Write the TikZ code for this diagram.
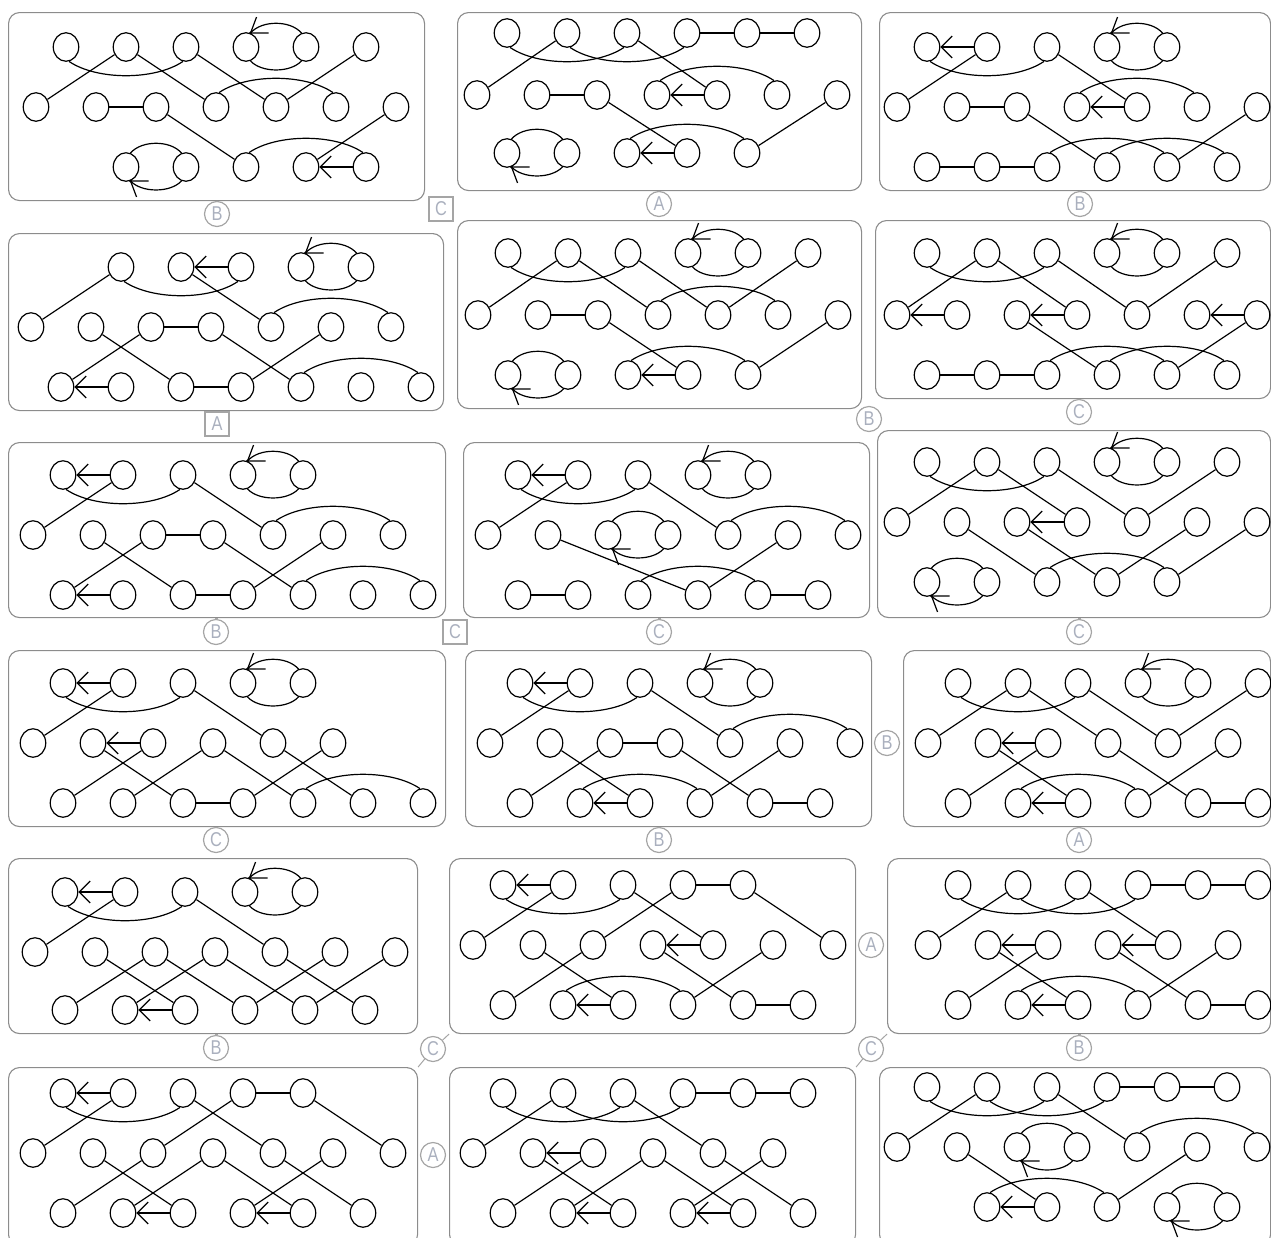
\documentclass[tikz,border=0pt]{standalone}
\usepackage{fontspec}
\newfontfamily\lblfont[FakeStretch=0.82]{Liberation Sans}
\usetikzlibrary{shapes.geometric,arrows.meta,calc}
\definecolor{lblline}{RGB}{165,165,165}
\definecolor{lbltext}{RGB}{170,176,190}
\definecolor{boxline}{RGB}{140,140,140}
\tikzset{
  cir/.style={ellipse,draw=black,line width=1.2pt,minimum width=25.5pt,minimum height=28.5pt,inner sep=0pt},
  edge/.style={draw=black,line width=1.2pt},
  harrow/.style={edge,-{Straight Barb[length=11pt,width=22pt]}},
  panel/.style={rectangle,draw=boxline,line width=1.1pt,rounded corners=11pt,inner sep=0pt},
  lblc/.style={circle,draw=lblline,line width=1.2pt,minimum size=25pt,inner sep=0pt,text=lbltext,font=\lblfont\fontsize{20}{20}\selectfont},
  lblb/.style={rectangle,draw=lblline,line width=1.2pt,minimum size=24pt,inner sep=0pt,text=lbltext,font=\lblfont\fontsize{20}{20}\selectfont},
  stub/.style={draw=lblline,line width=3pt},
  tie/.style={draw=lblline,line width=1pt}
}
\newcommand\SetP[5]{\def\PN{#1}\def\PX{#2}\def\YT{#3}\def\YM{#4}\def\YB{#5}}
\newcommand\PBox[5]{\node[panel,anchor=north west,minimum width={(#4-#2)*1pt},minimum height={(#5-#3)*1pt}] (#1) at (#2,#3) {};}
\newcommand\CT[1]{\foreach \cc in {#1}{\node[cir] (\PN t\cc) at ({\PX+30*\cc},\YT) {};}}
\newcommand\CM[1]{\foreach \cc in {#1}{\node[cir] (\PN m\cc) at ({\PX+30*\cc},\YM) {};}}
\newcommand\CB[1]{\foreach \cc in {#1}{\node[cir] (\PN b\cc) at ({\PX+30*\cc},\YB) {};}}
\newcommand\Ed[2]{\draw[edge] (\PN#1) -- (\PN#2);}
\newcommand\Ar[2]{\draw[harrow] (\PN#2) -- (\PN#1);}
\newcommand\Dn[2]{\draw[edge] (\PN#1.-78) .. controls ($(\PN#1.-78)+(28,19)$) and ($(\PN#2.-102)+(-28,19)$) .. (\PN#2.-102);}
\newcommand\Up[2]{\draw[edge] (\PN#1.78) .. controls ($(\PN#1.78)+(28,-19)$) and ($(\PN#2.102)+(-28,-19)$) .. (\PN#2.102);}
\newcommand\LoopArcs[2]{%
  \draw[edge] (\PN#1.72) .. controls ($(\PN#1.72)+(11,-13)$) and ($(\PN#2.108)+(-11,-13)$) .. (\PN#2.108);
  \draw[edge] (\PN#1.-72) .. controls ($(\PN#1.-72)+(11,12)$) and ($(\PN#2.-108)+(-11,12)$) .. (\PN#2.-108);}
\newcommand\LpT[2]{\LoopArcs{#1}{#2}%
  \draw[edge] (\PN#1.72) -- ++(18,0) (\PN#1.72) -- ++(6,-16);
  \fill (\PN#1.72) circle (1.6pt);}
\newcommand\LpB[2]{\LoopArcs{#1}{#2}%
  \draw[edge] (\PN#1.-72) -- ++(18,0) (\PN#1.-72) -- ++(6,16);
  \fill (\PN#1.-72) circle (1.6pt);}
\newcommand\Lc[4]{\node[lblc] (#1) at (#2,#3) {#4};}
\newcommand\Lb[4]{\node[lblb] (#1) at (#2,#3) {#4};}
\newcommand\Stub[2]{\draw[stub] (#1.north) -- (#1.north |- #2.south);}
\begin{document}
\begin{tikzpicture}[x=1pt,y=-1pt]
\useasboundingbox (0,0) rectangle (1271,1237);
\clip (0,0) rectangle (1271,1237);
% ---------- P1
\SetP{pa}{36}{47}{107}{167}
\PBox{boxa}{8}{12}{424}{200}
\CT{1,3,5,7,9,11}\CM{0,2,4,6,8,10,12}\CB{3,5,7,9,11}
\Ed{m0}{t3}\Ed{t3}{m6}\Ed{t5}{m8}\Ed{t11}{m8}\Ed{m2}{m4}\Ed{m4}{b7}\Ed{m12}{b9}
\Dn{t1}{t5}\Up{m6}{m10}\Up{b7}{b11}
\Ar{b9}{b11}
\LpT{t7}{t9}\LpB{b3}{b5}
% ---------- P2
\SetP{pb}{477}{33}{95}{153}
\PBox{boxb}{457}{12}{861}{190}
\CT{1,3,5,7,9,11}\CM{0,2,4,6,8,10,12}\CB{1,3,5,7,9}
\Ed{m0}{t3}\Ed{t5}{m8}\Ed{t7}{t9}\Ed{t9}{t11}\Ed{m2}{m4}\Ed{m4}{b7}\Ed{m12}{b9}
\Dn{t1}{t5}\Dn{t3}{t7}\Up{m6}{m10}\Up{b5}{b9}
\Ar{m6}{m8}\Ar{b5}{b7}
\LpB{b1}{b3}
% ---------- P3
\SetP{pc}{897}{47}{107}{167}
\PBox{boxc}{879}{12}{1270}{190}
\CT{1,3,5,7,9}\CM{0,2,4,6,8,10,12}\CB{1,3,5,7,9,11}
\Ed{m0}{t3}\Ed{t5}{m8}\Ed{m2}{m4}\Ed{m4}{b7}\Ed{m12}{b9}\Ed{b1}{b3}\Ed{b3}{b5}
\Dn{t1}{t5}\Up{m6}{m10}\Up{b5}{b9}\Up{b7}{b11}
\Ar{t1}{t3}\Ar{m6}{m8}
\LpT{t7}{t9}
% ---------- P4
\SetP{pd}{31}{267}{327}{387}
\PBox{boxd}{8}{233}{443}{410}
\CT{3,5,7,9,11}\CM{0,2,4,6,8,10,12}\CB{1,3,5,7,9,11,13}
\Ed{m0}{t3}\Ed{t5}{m8}\Ed{m4}{m6}\Ed{m2}{b5}\Ed{m4}{b1}\Ed{m6}{b9}\Ed{m10}{b7}\Ed{b5}{b7}
\Dn{t3}{t7}\Up{m8}{m12}\Up{b9}{b13}
\Ar{t5}{t7}\Ar{b1}{b3}
\LpT{t9}{t11}
% ---------- P5
\SetP{pe}{478}{253}{315}{375}
\PBox{boxe}{457}{220}{861}{408}
\CT{1,3,5,7,9,11}\CM{0,2,4,6,8,10,12}\CB{1,3,5,7,9}
\Ed{m0}{t3}\Ed{t3}{m6}\Ed{t5}{m8}\Ed{t11}{m8}\Ed{m2}{m4}\Ed{m4}{b7}\Ed{m12}{b9}
\Dn{t1}{t5}\Up{m6}{m10}\Up{b5}{b9}
\Ar{b5}{b7}
\LpT{t7}{t9}\LpB{b1}{b3}
% ---------- P6
\SetP{pf}{897}{253}{315}{375}
\PBox{boxf}{875}{220}{1270}{398}
\CT{1,3,5,7,9,11}\CM{0,2,4,6,8,10,12}\CB{1,3,5,7,9,11}
\Ed{m0}{t3}\Ed{t3}{m6}\Ed{t5}{m8}\Ed{t11}{m8}\Ed{m4}{b7}\Ed{m12}{b9}\Ed{b1}{b3}\Ed{b3}{b5}
\Dn{t1}{t5}\Up{b5}{b9}\Up{b7}{b11}
\Ar{m0}{m2}\Ar{m4}{m6}\Ar{m10}{m12}
\LpT{t7}{t9}
% ---------- P7
\SetP{pg}{33}{475}{535}{595}
\PBox{boxg}{8}{442}{445}{617}
\CT{1,3,5,7,9}\CM{0,2,4,6,8,10,12}\CB{1,3,5,7,9,11,13}
\Ed{m0}{t3}\Ed{t5}{m8}\Ed{m4}{m6}\Ed{m2}{b5}\Ed{m4}{b1}\Ed{m6}{b9}\Ed{m10}{b7}\Ed{b5}{b7}
\Dn{t1}{t5}\Up{m8}{m12}\Up{b9}{b13}
\Ar{t1}{t3}\Ar{b1}{b3}
\LpT{t7}{t9}
% ---------- P8
\SetP{ph}{488}{475}{535}{595}
\PBox{boxh}{463}{442}{869}{617}
\CT{1,3,5,7,9}\CM{0,2,4,6,8,10,12}\CB{1,3,5,7,9,11}
\Ed{m0}{t3}\Ed{t5}{m8}\Ed{m2}{b7}\Ed{m10}{b7}\Ed{b1}{b3}\Ed{b9}{b11}
\Dn{t1}{t5}\Up{m8}{m12}\Up{b5}{b9}
\Ar{t1}{t3}
\LpT{t7}{t9}\LpB{m4}{m6}
% ---------- P9
\SetP{pi}{897}{462}{522}{582}
\PBox{boxi}{877}{430}{1270}{617}
\CT{1,3,5,7,9,11}\CM{0,2,4,6,8,10,12}\CB{1,3,5,7,9}
\Ed{m0}{t3}\Ed{t3}{m6}\Ed{t5}{m8}\Ed{t11}{m8}\Ed{m2}{b5}\Ed{m4}{b7}\Ed{m10}{b7}\Ed{m12}{b9}
\Dn{t1}{t5}\Up{b5}{b9}
\Ar{m4}{m6}
\LpT{t7}{t9}\LpB{b1}{b3}
% ---------- P10
\SetP{pj}{33}{683}{743}{803}
\PBox{boxj}{8}{650}{445}{826}
\CT{1,3,5,7,9}\CM{0,2,4,6,8,10}\CB{1,3,5,7,9,11,13}
\Ed{m0}{t3}\Ed{t5}{m8}\Ed{m2}{b5}\Ed{m4}{b1}\Ed{m6}{b3}\Ed{m6}{b9}\Ed{m8}{b11}\Ed{m10}{b7}\Ed{b5}{b7}
\Dn{t1}{t5}\Up{b9}{b13}
\Ar{t1}{t3}\Ar{m2}{m4}
\LpT{t7}{t9}
% ---------- P11
\SetP{pk}{490}{683}{743}{803}
\PBox{boxk}{465}{650}{871}{826}
\CT{1,3,5,7,9}\CM{0,2,4,6,8,10,12}\CB{1,3,5,7,9,11}
\Ed{m0}{t3}\Ed{t5}{m8}\Ed{m4}{m6}\Ed{m2}{b5}\Ed{m4}{b1}\Ed{m6}{b9}\Ed{m10}{b7}\Ed{b9}{b11}
\Dn{t1}{t5}\Up{m8}{m12}\Up{b3}{b7}
\Ar{t1}{t3}\Ar{b3}{b5}
\LpT{t7}{t9}
% ---------- P12
\SetP{pl}{928}{683}{743}{803}
\PBox{boxl}{903}{650}{1270}{826}
\CT{1,3,5,7,9,11}\CM{0,2,4,6,8,10}\CB{1,3,5,7,9,11}
\Ed{m0}{t3}\Ed{t3}{m6}\Ed{t5}{m8}\Ed{t11}{m8}\Ed{m2}{b5}\Ed{m4}{b1}\Ed{m6}{b9}\Ed{m10}{b7}\Ed{b9}{b11}
\Dn{t1}{t5}\Up{b3}{b7}
\Ar{m2}{m4}\Ar{b3}{b5}
\LpT{t7}{t9}
% ---------- P13
\SetP{pm}{35}{892}{952}{1010}
\PBox{boxm}{8}{858}{417}{1033}
\CT{1,3,5,7,9}\CM{0,2,4,6,8,10,12}\CB{1,3,5,7,9,11}
\Ed{m0}{t3}\Ed{t5}{m8}\Ed{m2}{b5}\Ed{m4}{b1}\Ed{m4}{b7}\Ed{m6}{b3}\Ed{m6}{b9}\Ed{m8}{b11}\Ed{m10}{b7}\Ed{m12}{b9}
\Dn{t1}{t5}
\Ar{t1}{t3}\Ar{b3}{b5}
\LpT{t7}{t9}
% ---------- P14
\SetP{pn}{473}{885}{945}{1005}
\PBox{boxn}{449}{858}{855}{1033}
\CT{1,3,5,7,9}\CM{0,2,4,6,8,10,12}\CB{1,3,5,7,9,11}
\Ed{m0}{t3}\Ed{m4}{t7}\Ed{t5}{m8}\Ed{t7}{t9}\Ed{t9}{m12}\Ed{m2}{b5}\Ed{m4}{b1}\Ed{m6}{b9}\Ed{m10}{b7}\Ed{b9}{b11}
\Dn{t1}{t5}\Up{b3}{b7}
\Ar{t1}{t3}\Ar{m6}{m8}\Ar{b3}{b5}
% ---------- P15
\SetP{po}{928}{885}{945}{1005}
\PBox{boxo}{887}{858}{1270}{1033}
\CT{1,3,5,7,9,11}\CM{0,2,4,6,8,10}\CB{1,3,5,7,9,11}
\Ed{m0}{t3}\Ed{t5}{m8}\Ed{t7}{t9}\Ed{t9}{t11}\Ed{m2}{b5}\Ed{m4}{b1}\Ed{m6}{b9}\Ed{m10}{b7}\Ed{b9}{b11}
\Dn{t1}{t5}\Dn{t3}{t7}\Up{b3}{b7}
\Ar{m2}{m4}\Ar{m6}{m8}\Ar{b3}{b5}
% ---------- P16
\SetP{pp}{33}{1093}{1153}{1213}
\PBox{boxp}{8}{1067}{417}{1245}
\CT{1,3,5,7,9}\CM{0,2,4,6,8,10,12}\CB{1,3,5,7,9,11}
\Ed{m0}{t3}\Ed{m4}{t7}\Ed{t5}{m8}\Ed{t7}{t9}\Ed{t9}{m12}\Ed{m2}{b5}\Ed{m4}{b1}\Ed{m6}{b3}\Ed{m6}{b9}\Ed{m8}{b11}\Ed{m10}{b7}
\Dn{t1}{t5}
\Ar{t1}{t3}\Ar{b3}{b5}\Ar{b7}{b9}
% ---------- P17
\SetP{pq}{473}{1093}{1153}{1213}
\PBox{boxq}{449}{1067}{855}{1245}
\CT{1,3,5,7,9,11}\CM{0,2,4,6,8,10}\CB{1,3,5,7,9,11}
\Ed{m0}{t3}\Ed{t5}{m8}\Ed{t7}{t9}\Ed{t9}{t11}\Ed{m2}{b5}\Ed{m4}{b1}\Ed{m6}{b3}\Ed{m6}{b9}\Ed{m8}{b11}\Ed{m10}{b7}
\Dn{t1}{t5}\Dn{t3}{t7}
\Ar{m2}{m4}\Ar{b3}{b5}\Ar{b7}{b9}
% ---------- P18
\SetP{pr}{897}{1087}{1147}{1207}
\PBox{boxr}{879}{1067}{1270}{1245}
\CT{1,3,5,7,9,11}\CM{0,2,4,6,8,10,12}\CB{3,5,7,9,11}
\Ed{m0}{t3}\Ed{t5}{m8}\Ed{t7}{t9}\Ed{t9}{t11}\Ed{m2}{b5}\Ed{m10}{b7}
\Dn{t1}{t5}\Dn{t3}{t7}\Up{m8}{m12}\Up{b3}{b7}
\Ar{b3}{b5}
\LpB{m4}{m6}\LpB{b9}{b11}
% ---------- labels
\Lc{la}{217}{214}{B}\Stub{la}{boxa}
\Lb{lb}{441}{209}{C}
\Lc{lc}{659}{204}{A}\Stub{lc}{boxb}
\Lc{ld}{1080}{204}{B}\Stub{ld}{boxc}
\Lb{le}{217}{424}{A}\Stub{le}{boxd}
\Lc{lf}{869}{419}{B}\draw[tie] (lf) -- (boxe.south east);
\Lc{lg}{1079}{412}{C}\Stub{lg}{boxf}
\Lc{lh}{216}{632}{B}\Stub{lh}{boxg}
\Lb{li}{455}{632}{C}
\Lc{lj}{659}{632}{C}\Stub{lj}{boxh}
\Lc{lk}{1079}{632}{C}\Stub{lk}{boxi}
\Lc{ll}{216}{840}{C}\Stub{ll}{boxj}
\Lc{lm}{887}{743}{B}
\Lc{ln}{659}{840}{B}\Stub{ln}{boxk}
\Lc{lo}{1079}{840}{A}\Stub{lo}{boxl}
\Lc{lp}{216}{1048}{B}\Stub{lp}{boxm}
\Lc{lq}{433}{1049}{C}\draw[tie] (lq) -- (boxn.south west) (lq) -- (boxp.north east);
\Lc{lr}{871}{945}{A}
\Lc{ls}{871}{1049}{C}\draw[tie] (ls) -- (boxo.south west) (ls) -- (boxq.north east);
\Lc{lt}{1079}{1048}{B}\Stub{lt}{boxo}
\Lc{lu}{433}{1155}{A}
\end{tikzpicture}
\end{document}
